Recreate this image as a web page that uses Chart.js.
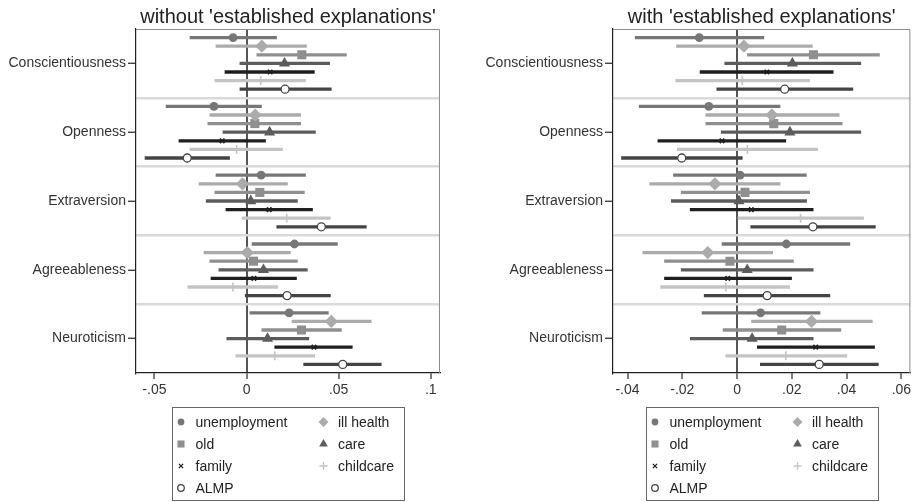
<!DOCTYPE html>
<html>
<head>
<meta charset="utf-8">
<script src="https://cdn.jsdelivr.net/npm/chart.js@4/dist/chart.umd.min.js"></script>
<style>
  html, body { margin: 0; background: #fff; }
  #wrap { position: relative; width: 917px; height: 502px; }
  canvas { position: absolute; top: 0; }
  #without { left: 0; }
  #with { left: 458px; }
</style>
</head>
<body>
<div id="wrap">
  <canvas id="without" width="458" height="502"></canvas>
  <canvas id="with" width="459" height="502"></canvas>
</div>
<script>
const categories = ['Conscientiousness', 'Openness', 'Extraversion', 'Agreeableness', 'Neuroticism'];
const seriesNames = ['unemployment', 'ill health', 'old', 'care', 'family', 'childcare', 'ALMP'];

// without 'established explanations' -- one row per series, columns follow categories
const withoutCoef = [
  [-0.0073, -0.0177, 0.0079, 0.0260, 0.0231],   // unemployment
  [0.0083, 0.0047, -0.0022, 0.0004, 0.0460],    // ill health
  [0.0300, 0.0045, 0.0072, 0.0038, 0.0298],     // old
  [0.0206, 0.0125, 0.0023, 0.0092, 0.0114],     // care
  [0.0128, -0.0132, 0.0123, 0.0040, 0.0366],    // family
  [0.0077, -0.0054, 0.0218, -0.0074, 0.0153],   // childcare
  [0.0209, -0.0322, 0.0406, 0.0220, 0.0522]     // ALMP
];
const withoutLow = [
  [-0.0307, -0.0437, -0.0166, 0.0030, 0.0018],
  [-0.0166, -0.0199, -0.0258, -0.0231, 0.0247],
  [0.0056, -0.0210, -0.0172, -0.0199, 0.0083],
  [-0.0036, -0.0128, -0.0219, -0.0150, -0.0107],
  [-0.0117, -0.0367, -0.0112, -0.0193, 0.0153],
  [-0.0172, -0.0307, -0.0024, -0.0318, -0.0058],
  [-0.0036, -0.0551, 0.0164, -0.0007, 0.0310]
];
const withoutHigh = [
  [0.0163, 0.0081, 0.0320, 0.0493, 0.0444],
  [0.0325, 0.0294, 0.0222, 0.0238, 0.0677],
  [0.0542, 0.0294, 0.0314, 0.0276, 0.0515],
  [0.0451, 0.0374, 0.0276, 0.0330, 0.0338],
  [0.0368, 0.0103, 0.0358, 0.0271, 0.0574],
  [0.0320, 0.0195, 0.0455, 0.0168, 0.0370],
  [0.0460, -0.0092, 0.0650, 0.0455, 0.0731]
];

// with 'established explanations'
const withCoef = [
  [-0.0138, -0.0103, 0.0011, 0.0180, 0.0086],
  [0.0025, 0.0127, -0.0081, -0.0107, 0.0272],
  [0.0279, 0.0134, 0.0029, -0.0026, 0.0163],
  [0.0202, 0.0193, 0.0007, 0.0037, 0.0055],
  [0.0109, -0.0055, 0.0052, -0.0034, 0.0287],
  [0.0019, 0.0038, 0.0232, -0.0041, 0.0178],
  [0.0174, -0.0202, 0.0277, 0.0110, 0.0300]
];
const withLow = [
  [-0.0372, -0.0357, -0.0232, -0.0055, -0.0128],
  [-0.0221, -0.0114, -0.0319, -0.0344, 0.0053],
  [0.0038, -0.0114, -0.0204, -0.0265, -0.0051],
  [-0.0045, -0.0058, -0.0240, -0.0204, -0.0171],
  [-0.0135, -0.0289, -0.0171, -0.0265, 0.0074],
  [-0.0224, -0.0218, 0.0000, -0.0279, -0.0041],
  [-0.0074, -0.0422, 0.0050, -0.0120, 0.0085]
];
const withHigh = [
  [0.0098, 0.0157, 0.0253, 0.0412, 0.0303],
  [0.0275, 0.0373, 0.0157, 0.0130, 0.0494],
  [0.0520, 0.0384, 0.0265, 0.0206, 0.0379],
  [0.0452, 0.0452, 0.0254, 0.0278, 0.0278],
  [0.0351, 0.0178, 0.0278, 0.0199, 0.0502],
  [0.0265, 0.0294, 0.0462, 0.0192, 0.0401],
  [0.0423, 0.0019, 0.0505, 0.0339, 0.0516]
];

const withoutTicks = [-0.05, 0, 0.05, 0.1];
const withTicks = [-0.04, -0.02, 0, 0.02, 0.04, 0.06];

// marker look per series
const lineColors = ['#777777', '#ababab', '#8f8f8f', '#5c5c5c', '#1e1e1e', '#c4c4c4', '#444444'];
const markerStyles = ['circle', 'rectRot', 'rect', 'triangle', 'crossRot', 'cross', 'circle'];
const markerRadius = [4.4, 6.6, 6.4, 6.4, 3.2, 4.5, 4];
const legendRadius = [3.4, 5, 5, 5, 3, 4, 3.3];
const markerFill = ['#777777', '#ababab', '#8f8f8f', '#5c5c5c', '#1e1e1e', '#c4c4c4', '#ffffff'];
const markerBorder = [0, 0, 0, 0, 1.6, 1.6, 1.3];

Chart.defaults.font.family = '"Liberation Sans", Arial, sans-serif';

const stataFmt = (v) => v === 0 ? '0' : (v < 0 ? '-' : '') + String(+Math.abs(v).toFixed(4)).replace(/^0/, '');
const rowPos = (c, i) => c + 1 + (i - 3) / 8;

const frame = {
  id: 'frame',
  beforeDatasetsDraw(chart) {
    const { ctx, chartArea: a } = chart;
    ctx.save();
    ctx.strokeStyle = '#8c8c8c';
    ctx.lineWidth = 1;
    ctx.beginPath();
    ctx.moveTo(a.left, a.top + 0.5);
    ctx.lineTo(a.right - 0.5, a.top + 0.5);
    ctx.lineTo(a.right - 0.5, a.bottom);
    ctx.stroke();
    ctx.restore();
  }
};

const boxLegend = {
  id: 'boxLegend',
  afterDraw(chart) {
    const { ctx, chartArea } = chart;
    const w = 232, h = 93;
    const left = Math.round((chartArea.left + chartArea.right) / 2 - w / 2);
    const top = Math.round(chartArea.bottom + 34);
    ctx.save();
    ctx.strokeStyle = '#666';
    ctx.lineWidth = 1;
    ctx.strokeRect(left + 0.5, top + 0.5, w, h);
    ctx.font = '14px "Liberation Sans", Arial, sans-serif';
    ctx.textBaseline = 'middle';
    chart.data.datasets.filter((d) => d.type === 'scatter').forEach((d, k) => {
      const sx = left + (k % 2 ? 151.5 : 9);
      const sy = top + 15 + Math.floor(k / 2) * 22;
      ctx.fillStyle = d.backgroundColor;
      ctx.strokeStyle = d.borderColor;
      ctx.lineWidth = d.borderWidth ? Math.min(d.borderWidth, 1.3) : 0;
      Chart.helpers.drawPoint(ctx, { pointStyle: d.pointStyle, radius: legendRadius[k], borderWidth: d.borderWidth, rotation: 0 }, sx, sy);
      ctx.fillStyle = '#222';
      ctx.fillText(d.label, sx + 14.5, sy + 1);
    });
    ctx.restore();
  }
};

function makePanel(id, title, coef, low, high, xMin, xMax, xTicks, axisWidth, padRight) {
  const points = seriesNames.map((name, i) => ({
    type: 'scatter',
    label: name,
    order: 0,
    data: categories.map((_, c) => ({ x: coef[i][c], y: rowPos(c, i) })),
    pointStyle: markerStyles[i],
    pointRadius: markerRadius[i],
    backgroundColor: markerFill[i],
    borderColor: lineColors[i],
    borderWidth: markerBorder[i]
  }));
  const bars = seriesNames.map((name, i) => ({
    type: 'bar',
    label: name + ' CI',
    order: 1,
    indexAxis: 'y',
    grouped: false,
    barThickness: 2.6,
    borderWidth: 0,
    backgroundColor: lineColors[i],
    data: categories.map((_, c) => ({ x: [low[i][c], high[i][c]], y: rowPos(c, i) }))
  }));

  return new Chart(document.getElementById(id), {
    type: 'scatter',
    data: { datasets: [...points, ...bars] },
    plugins: [frame, boxLegend],
    options: {
      responsive: false,
      animation: false,
      layout: { padding: { left: 0, right: padRight, top: 0, bottom: 104 } },
      plugins: {
        legend: { display: false },
        tooltip: { enabled: false },
        title: {
          display: true, text: title, fullSize: false, color: '#222',
          font: { size: 20, weight: 'normal' }, padding: { top: 5, bottom: 0 }
        }
      },
      scales: {
        x: {
          type: 'linear', min: xMin, max: xMax, offset: false,
          afterBuildTicks: (s) => { s.ticks = xTicks.map((v) => ({ value: v })); },
          afterFit: (s) => { s.height = 25; },
          grid: {
            color: (c) => c.tick && c.tick.value === 0 ? '#555' : 'rgba(0,0,0,0)',
            lineWidth: 2, tickColor: '#222', tickWidth: 1.2, tickLength: 6, offset: false
          },
          border: { color: '#222', width: 1.2 },
          ticks: { callback: (v) => stataFmt(v), padding: 3, font: { size: 14 }, color: '#333', maxRotation: 0, autoSkip: false }
        },
        y: {
          type: 'linear', reverse: true, min: 0.5, max: 5.5, offset: false,
          afterBuildTicks: (s) => { s.ticks = [0.5, 1, 1.5, 2, 2.5, 3, 3.5, 4, 4.5, 5, 5.5].map((v) => ({ value: v })); },
          afterFit: (s) => { s.width = axisWidth; },
          grid: {
            color: (c) => c.tick && !Number.isInteger(c.tick.value) && c.tick.value > 0.5 && c.tick.value < 5.5 ? '#dadada' : 'rgba(0,0,0,0)',
            lineWidth: 2.5,
            tickColor: (c) => c.tick && Number.isInteger(c.tick.value) ? '#222' : 'rgba(0,0,0,0)',
            tickWidth: 1.2, tickLength: 8, offset: false
          },
          border: { color: '#222', width: 1.2 },
          ticks: { callback: (v) => Number.isInteger(v) ? categories[v - 1] : '', padding: 2, font: { size: 14 }, color: '#333', autoSkip: false }
        }
      }
    }
  });
}

makePanel('without', "without 'established explanations'", withoutCoef, withoutLow, withoutHigh, -0.06, 0.105, withoutTicks, 136, 18);
makePanel('with', "with 'established explanations'", withCoef, withLow, withHigh, -0.0453, 0.0633, withTicks, 155, 3);
</script>
</body>
</html>
